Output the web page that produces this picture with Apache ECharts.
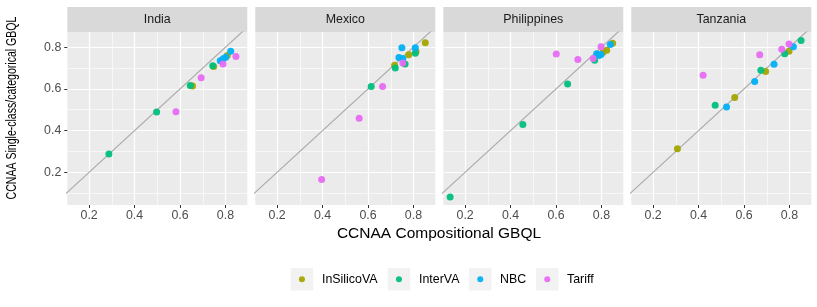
<!DOCTYPE html>
<html><head><meta charset="utf-8">
<script src="https://cdn.jsdelivr.net/npm/echarts@6/dist/echarts.min.js"></script>
<style>html,body{margin:0;padding:0;background:#fff}#c{width:817px;height:307px}</style>
</head><body><div id="c"></div>
<script>
// ---------- data ----------
const countries = ['India', 'Mexico', 'Philippines', 'Tanzania'];
const methods = ['InSilicoVA', 'InterVA', 'NBC', 'Tariff'];
const methodColors = ['#A3A500', '#00BF7D', '#00B0F6', '#E76BF3'];
const majorTicks = [0.2, 0.4, 0.6, 0.8];
const minorTicksX = [0.3, 0.5, 0.7];
const minorTicksY = [0.1, 0.3, 0.5, 0.7];
const refLine = [[0, 0], [1, 1]];

// [compositional, single-class] pairs
const India_InSilicoVA = [[0.655, 0.614], [0.748, 0.707], [0.808, 0.760]];
const India_InterVA = [[0.287, 0.288], [0.497, 0.489], [0.645, 0.616], [0.744, 0.711]];
const India_NBC = [[0.777, 0.735], [0.790, 0.745], [0.801, 0.752], [0.823, 0.781]];
const India_Tariff = [[0.582, 0.490], [0.693, 0.654], [0.789, 0.719], [0.846, 0.756]];

const Mexico_InSilicoVA = [[0.717, 0.713], [0.779, 0.764], [0.811, 0.780], [0.852, 0.821]];
const Mexico_InterVA = [[0.614, 0.611], [0.720, 0.700], [0.763, 0.719], [0.808, 0.771]];
const Mexico_NBC = [[0.736, 0.751], [0.749, 0.797], [0.753, 0.746], [0.808, 0.797]];
const Mexico_Tariff = [[0.396, 0.165], [0.561, 0.459], [0.664, 0.611], [0.753, 0.724]];

const Philippines_InSilicoVA = [[0.807, 0.776], [0.823, 0.786], [0.849, 0.819]];
const Philippines_InterVA = [[0.134, 0.081], [0.454, 0.429], [0.651, 0.624], [0.770, 0.737]];
const Philippines_NBC = [[0.779, 0.769], [0.789, 0.760], [0.798, 0.765], [0.839, 0.813]];
const Philippines_Tariff = [[0.601, 0.767], [0.696, 0.741], [0.763, 0.746], [0.798, 0.802]];

const Tanzania_InSilicoVA = [[0.307, 0.313], [0.559, 0.559], [0.695, 0.684], [0.798, 0.781]];
const Tanzania_InterVA = [[0.473, 0.521], [0.674, 0.689], [0.779, 0.769], [0.851, 0.832]];
const Tanzania_NBC = [[0.523, 0.513], [0.647, 0.635], [0.732, 0.718], [0.817, 0.802]];
const Tanzania_Tariff = [[0.420, 0.665], [0.669, 0.764], [0.766, 0.790], [0.798, 0.816]];

const seriesData = {
  India: [India_InSilicoVA, India_InterVA, India_NBC, India_Tariff],
  Mexico: [Mexico_InSilicoVA, Mexico_InterVA, Mexico_NBC, Mexico_Tariff],
  Philippines: [Philippines_InSilicoVA, Philippines_InterVA, Philippines_NBC, Philippines_Tariff],
  Tanzania: [Tanzania_InSilicoVA, Tanzania_InterVA, Tanzania_NBC, Tanzania_Tariff]
};

// ---------- layout ----------
const FONT = 'Liberation Sans';
const panelLeft0 = 67.3, panelStep = 188, panelW = 180;
const panelTop = 32, panelH = 173;
const stripTop = 7, stripH = 25;
const xMin = 0.104, xMax = 0.896, yMin = 0.043, yMax = 0.873;

const grids = [], xAxes = [], yAxes = [], series = [], graphics = [];
countries.forEach((c, i) => {
  const left = panelLeft0 + panelStep * i;
  grids.push({ left: left, top: panelTop, width: panelW, height: panelH,
    show: true, backgroundColor: '#EBEBEB', borderWidth: 0 });
  // major x
  xAxes.push({ type: 'value', gridIndex: i, min: xMin, max: xMax,
    axisLine: { show: false },
    axisTick: { show: true, customValues: majorTicks, length: 3, lineStyle: { color: '#333333', width: 1 } },
    axisLabel: { show: true, customValues: majorTicks, color: '#4D4D4D', fontSize: 12.4, fontFamily: FONT, margin: 5 },
    splitLine: { show: true, lineStyle: { color: '#FFFFFF', width: 1.2 } } });
  // minor x
  xAxes.push({ type: 'value', gridIndex: i, min: xMin, max: xMax,
    axisLine: { show: false },
    axisTick: { show: false, customValues: minorTicksX },
    axisLabel: { show: false },
    splitLine: { show: true, lineStyle: { color: '#FFFFFF', width: 0.6 } } });
  // major y
  yAxes.push({ type: 'value', gridIndex: i, min: yMin, max: yMax,
    axisLine: { show: false },
    axisTick: { show: i === 0, customValues: majorTicks, length: 3, lineStyle: { color: '#333333', width: 1 } },
    axisLabel: { show: i === 0, customValues: majorTicks, color: '#4D4D4D', fontSize: 12.4, fontFamily: FONT, margin: 6 },
    splitLine: { show: true, lineStyle: { color: '#FFFFFF', width: 1.2 } } });
  // minor y
  yAxes.push({ type: 'value', gridIndex: i, min: yMin, max: yMax,
    axisLine: { show: false },
    axisTick: { show: false, customValues: minorTicksY },
    axisLabel: { show: false },
    splitLine: { show: true, lineStyle: { color: '#FFFFFF', width: 0.6 } } });

  series.push({ type: 'line', xAxisIndex: 2 * i, yAxisIndex: 2 * i, data: refLine,
    clip: true, symbol: 'none', silent: true, z: 2,
    lineStyle: { color: '#ABABAB', width: 1.2 } });

  methods.forEach((m, k) => {
    series.push({ type: 'scatter', name: m, xAxisIndex: 2 * i, yAxisIndex: 2 * i,
      data: seriesData[c][k], symbolSize: 7, z: 3,
      itemStyle: { color: methodColors[k], opacity: 0.95 } });
  });

  graphics.push({ type: 'rect', shape: { x: left, y: stripTop, width: panelW, height: stripH },
    style: { fill: '#D9D9D9' }, z: -1 });
  graphics.push({ type: 'text', x: left + panelW / 2, y: stripTop + stripH / 2 + 0.5,
    style: { text: c, fill: '#1A1A1A', font: '12.4px "' + FONT + '"', textAlign: 'center', textVerticalAlign: 'middle' } });
});

// axis titles
graphics.push({ type: 'text', x: 439, y: 234,
  style: { text: 'CCNAA Compositional GBQL', fill: '#000000', font: '15.5px "' + FONT + '"', textAlign: 'center', textVerticalAlign: 'middle' } });
graphics.push({ type: 'text', x: 12, y: 108, rotation: Math.PI / 2,
  style: { text: 'CCNAA Single-class/categorical GBQL', fill: '#000000', font: '15.5px "' + FONT + '"', textAlign: 'center', textVerticalAlign: 'middle' },
  scaleX: 0.68 });

// legend keys
const legendKeyX = [290.7, 387.7, 469, 536];
const legendTextX = [322, 419, 500, 567];
const legends = [];
methods.forEach((m, k) => {
  graphics.push({ type: 'rect', shape: { x: legendKeyX[k], y: 268, width: 22.5, height: 22.5 },
    style: { fill: '#F2F2F2' }, z: -1 });
  legends.push({ data: [m], left: legendKeyX[k] + 8.25, top: 272.3, padding: 0,
    icon: 'circle', itemWidth: 6, itemHeight: 6, selectedMode: false,
    textStyle: { color: '#000000', fontSize: 12.4, fontFamily: FONT, lineHeight: 14,
      padding: [0, 0, 0, legendTextX[k] - (legendKeyX[k] + 8.25 + 6 + 5)] } });
});

const chart = echarts.init(document.getElementById('c'), null, { renderer: 'canvas' });
chart.setOption({
  animation: false,
  backgroundColor: '#FFFFFF',
  textStyle: { fontFamily: FONT },
  grid: grids, xAxis: xAxes, yAxis: yAxes, series: series,
  legend: legends,
  graphic: { elements: graphics }
});
</script></body></html>
